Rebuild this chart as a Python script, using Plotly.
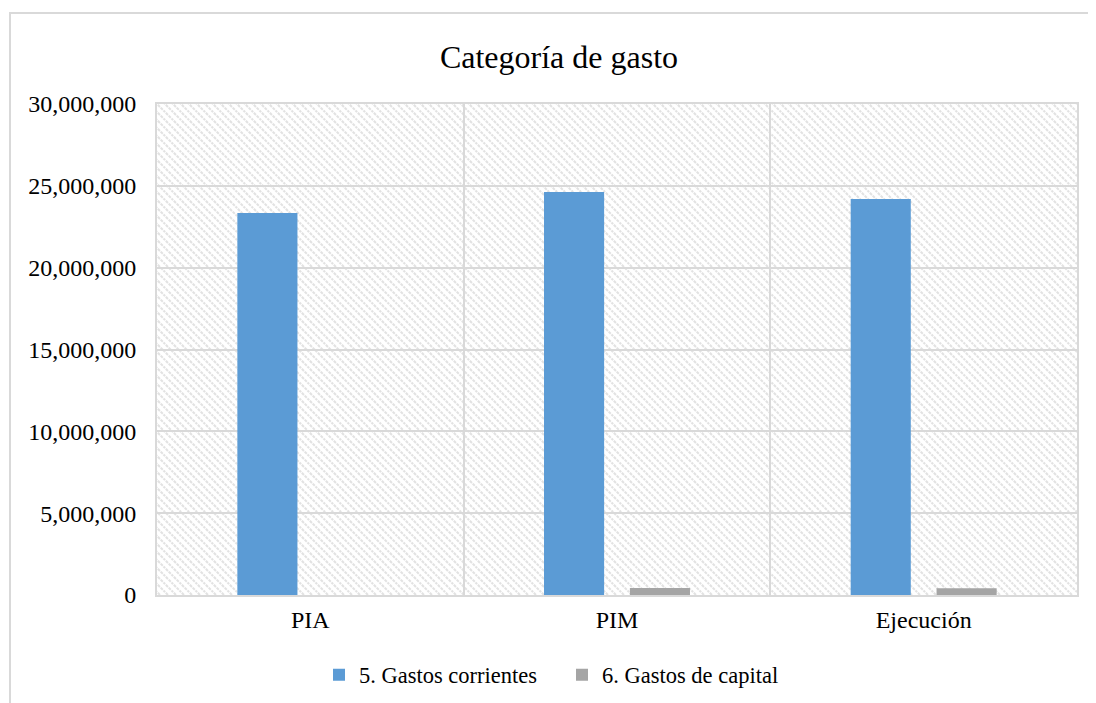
import base64
import plotly.graph_objects as go

categories = ["PIA", "PIM", "Ejecución"]
gastos_corrientes = [23340000, 24620000, 24200000]
gastos_capital = [0, 430000, 420000]
series_names = ["5. Gastos corrientes", "6. Gastos de capital"]
y_ticks = [0, 5000000, 10000000, 15000000, 20000000, 25000000, 30000000]

OFF = 8  # page body margin
W, H = 1096 - OFF, 703 - OFF
L, T = 157 - OFF, 104 - OFF
PW, PH = 920, 491
R, B = W - L - PW, H - T - PH

FONT = "Liberation Serif, Times New Roman, serif"


def cx(px):
    return (px - OFF) / W


def cy(py):
    return 1 - (py - OFF) / H


def paper_x(px):
    return (px - OFF - L) / PW


def paper_y(py):
    return (T + PH - (py - OFF)) / PH


svg = f'''<svg xmlns="http://www.w3.org/2000/svg" width="{PW}" height="{PH}" viewBox="0 0 {PW} {PH}" preserveAspectRatio="none">
<defs><pattern id="h" patternUnits="userSpaceOnUse" width="8" height="8">
<rect width="8" height="8" fill="white"/>
<path d="M-2,-2 L10,10 M-2,6 L2,10 M6,-2 L10,2" stroke="#e2e2e2" stroke-width="2" stroke-dasharray="3,1"/>
</pattern></defs>
<rect width="{PW}" height="{PH}" fill="url(#h)"/></svg>'''
img_src = "data:image/svg+xml;base64," + base64.b64encode(svg.encode()).decode()

fig = go.Figure()
fig.add_trace(go.Bar(x=categories, y=gastos_corrientes, name=series_names[0],
                     marker=dict(color="#5B9BD5", line=dict(width=0))))
fig.add_trace(go.Bar(x=categories, y=gastos_capital, name=series_names[1],
                     marker=dict(color="#A5A5A5", line=dict(width=0))))

fig.update_layout(
    width=W, height=H,
    margin=dict(l=L, r=R, t=T, b=B, autoexpand=False),
    paper_bgcolor="white",
    plot_bgcolor="rgba(0,0,0,0)",
    barmode="group", bargap=0.44, bargroupgap=0.3,
    font=dict(family=FONT, size=22, color="#000000"),
    title=dict(text="Categoría de gasto", x=cx(559), xref="container", xanchor="center",
               y=cy(57), yref="container", yanchor="middle",
               font=dict(family=FONT, size=32, color="#000000")),
    showlegend=True,
    legend=dict(orientation="h", x=cx(562), xref="container", xanchor="center",
                y=cy(675), yref="container", yanchor="middle",
                font=dict(family=FONT, size=22.5), itemwidth=30,
                entrywidth=198, entrywidthmode="pixels",
                bgcolor="rgba(0,0,0,0)", traceorder="normal"),
    images=[dict(source=img_src, xref="paper", yref="paper", x=0, y=1,
                 sizex=1, sizey=1, xanchor="left", yanchor="top",
                 sizing="stretch", layer="below")],
    shapes=[dict(type="rect", xref="paper", yref="paper",
                 x0=paper_x(10), x1=paper_x(1120),
                 y0=paper_y(730), y1=paper_y(13),
                 line=dict(color="#d9d9d9", width=2), fillcolor="rgba(0,0,0,0)",
                 layer="below")],
)

fig.update_xaxes(type="category", tickson="boundaries", showgrid=True,
                 gridcolor="#d9d9d9", gridwidth=2, showline=True, mirror=True,
                 linecolor="#d9d9d9", linewidth=2, ticks="", ticklabelstandoff=2,
                 tickfont=dict(family=FONT, size=24))
fig.update_yaxes(range=[0, 30000000], tickvals=y_ticks, tickformat=",d",
                 showgrid=True, gridcolor="#d9d9d9", gridwidth=2,
                 showline=True, mirror=True, linecolor="#d9d9d9", linewidth=2,
                 zeroline=False, ticks="", ticklabelstandoff=14,
                 tickfont=dict(family=FONT, size=24))

fig.write_html("out.html")
